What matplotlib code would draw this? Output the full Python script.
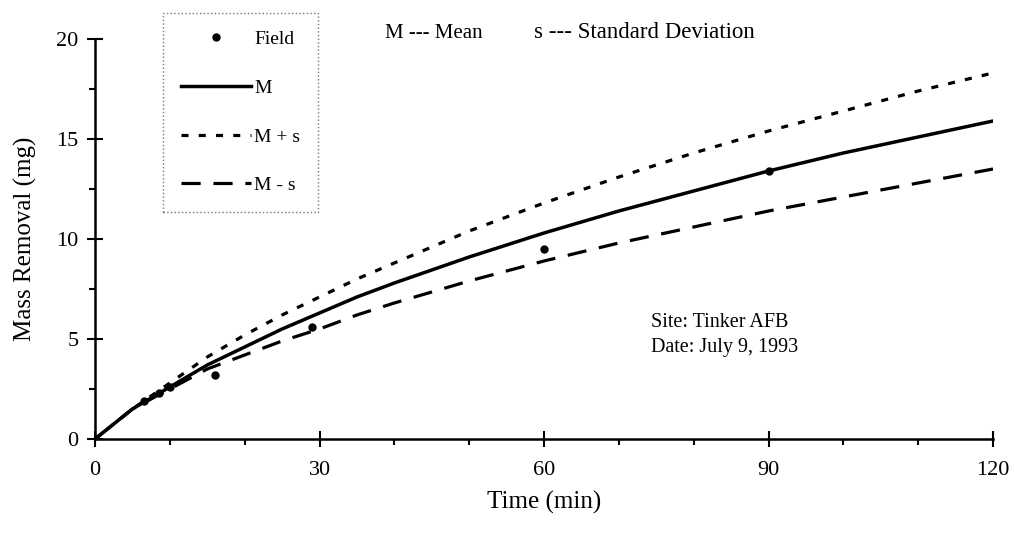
import matplotlib
matplotlib.use("Agg")
import matplotlib.pyplot as plt

# curves
t = [0, 5, 10, 15, 20, 25, 30, 35, 40, 50, 60, 70, 80, 90, 100, 110, 120]
m_mean = [0, 1.5, 2.6, 3.7, 4.6, 5.5, 6.3, 7.1, 7.8, 9.1, 10.3, 11.4, 12.4, 13.4, 14.3, 15.1, 15.9]
m_plus = [0, 1.5, 2.8, 4.1, 5.2, 6.2, 7.1, 8.0, 8.8, 10.4, 11.8, 13.1, 14.3, 15.4, 16.4, 17.4, 18.3]
m_minus = [0, 1.5, 2.5, 3.5, 4.2, 4.9, 5.5, 6.2, 6.8, 7.9, 8.9, 9.8, 10.6, 11.4, 12.1, 12.8, 13.5]

# field measurements
field_t = [6.5, 8.5, 10, 16, 29, 60, 90]
field_m = [1.9, 2.3, 2.6, 3.2, 5.6, 9.5, 13.4]

plt.rcParams['font.family'] = ['Liberation Serif', 'DejaVu Serif']

fig = plt.figure(figsize=(10.14, 5.35), dpi=100)
ax = fig.add_axes([95/1014, 1-439/535, 898/1014, 400/535])

ax.plot(field_t, field_m, 'o', color='black', ms=5, label='Field')
ax.plot(t, m_mean, '-', color='black', lw=2.5, label='M')
ax.plot(t, m_plus, color='black', lw=2.3, dashes=(2.2, 3.2), label='M + s')
ax.plot(t, m_minus, color='black', lw=2.3, dashes=(6, 4), label='M - s')

ax.set_xlim(0, 120)
ax.set_ylim(0, 20)
ax.set_xticks([0, 30, 60, 90, 120])
ax.set_xticks([10, 20, 40, 50, 70, 80, 100, 110], minor=True)
ax.set_yticks([0, 5, 10, 15, 20])
ax.set_yticks([2.5, 7.5, 12.5, 17.5], minor=True)
ax.tick_params(which='major', direction='inout', length=12, width=1.5, labelsize=16, pad=6)
ax.tick_params(which='minor', direction='out', length=4, width=1.5)
ax.tick_params(axis='x', which='major', pad=10)
for s in ['top', 'right']:
    ax.spines[s].set_visible(False)
for s in ['left', 'bottom']:
    ax.spines[s].set_linewidth(1.8)

ax.set_xlabel('Time (min)', fontsize=18, labelpad=8)
ax.set_ylabel('Mass Removal (mg)', fontsize=18, labelpad=14)

ax.text(38.8, 20.3, 'M --- Mean', fontsize=15, va='center', ha='left')
ax.text(58.6, 20.3, 's --- Standard Deviation', fontsize=16.5, va='center', ha='left')
ax.text(74.3, 6.3, 'Site: Tinker AFB\nDate: July 9, 1993', fontsize=14.5,
        va='top', ha='left', linespacing=1.45)

leg = ax.legend(loc='upper left', bbox_to_anchor=(163/1014, 1-13/535),
                bbox_transform=fig.transFigure, borderaxespad=0, fontsize=14,
                handlelength=3.6, handletextpad=0.2, labelspacing=1.6,
                borderpad=0.9, fancybox=False, frameon=True)
frame = leg.get_frame()
frame.set_edgecolor('#555555')
frame.set_linestyle(':')
frame.set_linewidth(1.0)

fig.savefig('out.png', dpi=100)
